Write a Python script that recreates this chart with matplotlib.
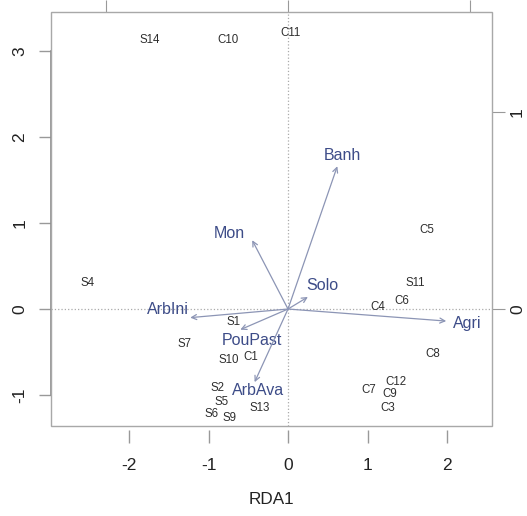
import matplotlib
matplotlib.use("Agg")
import matplotlib.pyplot as plt
from matplotlib.patches import Rectangle

plt.rcParams['font.family'] = ['Liberation Sans', 'DejaVu Sans']
plt.rcParams['axes.unicode_minus'] = False

# site scores (RDA1, RDA2)
sites = ['S14', 'C10', 'C11', 'C5', 'S4', 'S11', 'C6', 'C4', 'S1', 'S7', 'S10', 'C1',
         'C8', 'C12', 'C7', 'C9', 'C3', 'S2', 'S5', 'S6', 'S9', 'S13']
site_x = [-1.74, -0.75, 0.03, 1.74, -2.52, 1.60, 1.43, 1.13, -0.68, -1.30, -0.75, -0.47,
          1.82, 1.36, 1.01, 1.28, 1.25, -0.89, -0.83, -0.96, -0.73, -0.35]
site_y = [3.13, 3.13, 3.21, 0.92, 0.30, 0.30, 0.09, 0.02, -0.15, -0.41, -0.59, -0.56,
          -0.52, -0.85, -0.94, -0.99, -1.15, -0.92, -1.08, -1.22, -1.27, -1.15]

# environmental arrows (tips, in main plot units)
env = ['Banh', 'Mon', 'Solo', 'Agri', 'ArbIni', 'PouPast', 'ArbAva']
env_x = [0.62, -0.45, 0.25, 1.99, -1.23, -0.60, -0.42]
env_y = [1.66, 0.80, 0.14, -0.14, -0.10, -0.24, -0.85]
env_lab_x = [0.69, -0.74, 0.43, 2.26, -1.51, -0.45, -0.38]
env_lab_y = [1.79, 0.88, 0.27, -0.17, -0.01, -0.37, -0.95]

# biplot axis multiplier (secondary axes)
mul = 2.295

grey = '#A8A8A8'
fig = plt.figure(figsize=(5.27, 5.16), dpi=100)
ax = fig.add_axes([0.0968, 0.1744, 0.8368, 0.8023])
ax.set_xlim(-2.981, 2.566)
ax.set_ylim(-1.360, 3.453)

ax.axhline(0, color='#AAAAAA', ls=':', lw=0.9)
ax.axvline(0, color='#AAAAAA', ls=':', lw=0.9)

for s, x, y in zip(sites, site_x, site_y):
    ax.text(x, y, s, fontsize=8.3, color='#2E2E2E', ha='center', va='center')

for n, x, y, lx, ly in zip(env, env_x, env_y, env_lab_x, env_lab_y):
    ax.annotate('', xy=(x, y), xytext=(0, 0),
                arrowprops=dict(arrowstyle='->', color='#8C95B5', lw=0.9,
                                shrinkA=0, shrinkB=0, mutation_scale=9))
    ax.text(lx, ly, n, fontsize=11.5, color='#3D4C88', ha='center', va='center')

# box drawn separately, bottom axis ticks sit slightly below it
for sp in ax.spines.values():
    sp.set_color('none')
ax.spines['bottom'].set_position(('outward', 3))
ax.add_patch(Rectangle((0, 0), 1, 1, transform=ax.transAxes, fill=False,
                       edgecolor=grey, lw=1.0, clip_on=False, zorder=5))
ax.plot([0, 0], [-1, 3], transform=ax.get_yaxis_transform(), color='#8A8A8A',
        lw=1.2, clip_on=False)

ax.set_xticks([-2, -1, 0, 1, 2])
ax.set_yticks([-1, 0, 1, 2, 3])
ax.tick_params(colors='#999999', labelcolor='#222222', length=9, width=1.0,
               labelsize=12.5)
ax.tick_params(axis='x', pad=11)
ax.tick_params(axis='y', pad=8)
for lab in ax.get_yticklabels():
    lab.set_rotation(90)
    lab.set_va('center')
ax.set_xlabel('RDA1', fontsize=12.3, color='#222222', labelpad=14)

top = ax.secondary_xaxis('top', functions=(lambda v: v / mul, lambda v: v * mul))
top.set_xticks([-1, 0, 1])
top.tick_params(colors='#999999', length=9, labeltop=False)
top.spines['top'].set_visible(False)

right = ax.secondary_yaxis('right', functions=(lambda v: v / mul, lambda v: v * mul))
right.set_yticks([0, 1])
right.tick_params(colors='#999999', labelcolor='#222222', length=9, labelsize=12.5, pad=4)
right.spines['right'].set_visible(False)
for lab in right.get_yticklabels():
    lab.set_rotation(90)
    lab.set_va('center')

fig.savefig('out.png', dpi=100)
